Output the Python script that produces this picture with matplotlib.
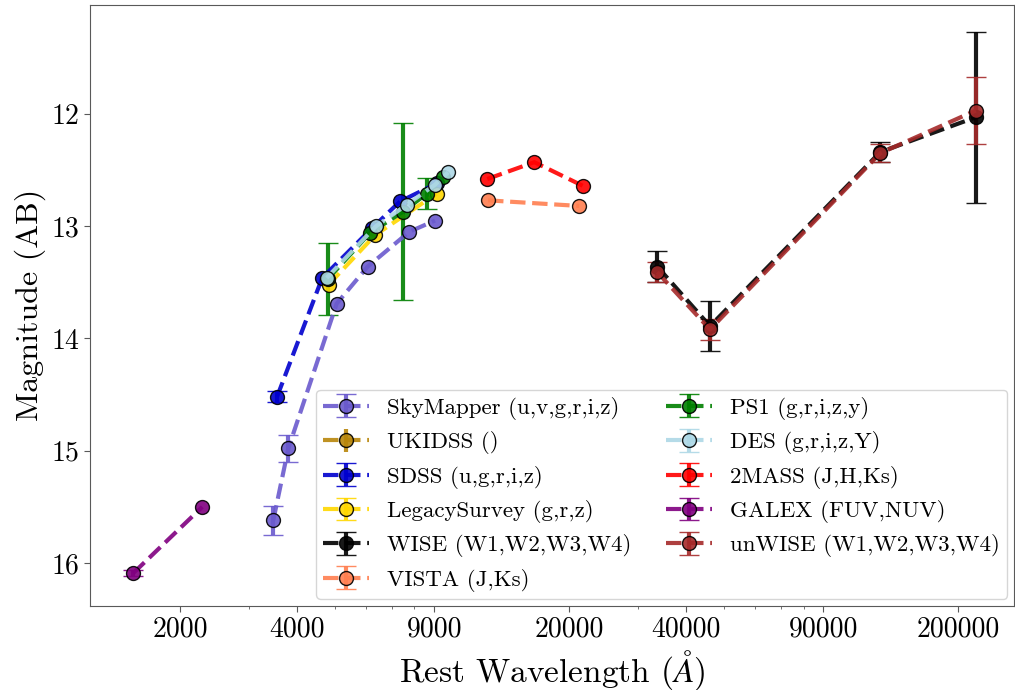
import numpy as np
import matplotlib
matplotlib.use("Agg")
import matplotlib.pyplot as plt
from matplotlib.ticker import FixedLocator, FuncFormatter, LogLocator, NullFormatter

plt.rcParams["font.family"] = ["cmr10", "DejaVu Serif"]
plt.rcParams["mathtext.fontset"] = "cm"
plt.rcParams["axes.formatter.use_mathtext"] = True

nan = np.nan

# --- photometry read off the SED (rest wavelength in A, AB mag, error) ---
# nan error = no visible error bar
sm_wl = [3473, 3796, 5053, 6071, 7766, 9043]
sm_mag = [15.62, 14.98, 13.69, 13.36, 13.05, 12.95]
sm_err = [0.13, 0.12, nan, nan, nan, nan]

ukidss_wl = []
ukidss_mag = []
ukidss_err = []

sdss_wl = [3551, 4640, 6218, 7351, 9133]
sdss_mag = [14.52, 13.46, 13.02, 12.78, 12.62]
sdss_err = [0.05, nan, nan, nan, nan]

legacy_wl = [4820, 6340, 9130]
legacy_mag = [13.52, 13.08, 12.71]
legacy_err = [nan, nan, nan]

wise_wl = [33680, 46010, 126000, 221600]
wise_mag = [13.36, 13.89, 12.34, 12.03]
wise_err = [0.14, 0.22, 0.09, 0.76]

vista_wl = [12376, 21230]
vista_mag = [12.77, 12.82]
vista_err = [nan, nan]

ps1_wl = [4800, 6155, 7496, 8607, 9497]
ps1_mag = [13.47, 13.06, 12.87, 12.71, 12.56]
ps1_err = [0.32, nan, 0.79, 0.14, nan]

des_wl = [4764, 6377, 7647, 9043, 9781]
des_mag = [13.46, 13.00, 12.81, 12.63, 12.52]
des_err = [nan, nan, nan, nan, nan]

tmass_wl = [12318, 16270, 21660]
tmass_mag = [12.58, 12.43, 12.64]
tmass_err = [nan, nan, nan]

galex_wl = [1517, 2282]
galex_mag = [16.09, 15.50]
galex_err = [0.03, nan]

unwise_wl = [33680, 46010, 126000, 221600]
unwise_mag = [13.41, 13.92, 12.35, 11.97]
unwise_err = [0.09, 0.09, 0.08, 0.30]

surveys = [
    ("SkyMapper (u,v,g,r,i,z)", sm_wl, sm_mag, sm_err, "slateblue"),
    ("UKIDSS ()", ukidss_wl, ukidss_mag, ukidss_err, "darkgoldenrod"),
    ("SDSS (u,g,r,i,z)", sdss_wl, sdss_mag, sdss_err, "mediumblue"),
    ("LegacySurvey (g,r,z)", legacy_wl, legacy_mag, legacy_err, "gold"),
    ("WISE (W1,W2,W3,W4)", wise_wl, wise_mag, wise_err, "black"),
    ("VISTA (J,Ks)", vista_wl, vista_mag, vista_err, "coral"),
    ("PS1 (g,r,i,z,y)", ps1_wl, ps1_mag, ps1_err, "green"),
    ("DES (g,r,i,z,Y)", des_wl, des_mag, des_err, "lightblue"),
    ("2MASS (J,H,Ks)", tmass_wl, tmass_mag, tmass_err, "red"),
    ("GALEX (FUV,NUV)", galex_wl, galex_mag, galex_err, "purple"),
    ("unWISE (W1,W2,W3,W4)", unwise_wl, unwise_mag, unwise_err, "brown"),
]

xticks = [2000, 4000, 9000, 20000, 40000, 90000, 200000]

fig = plt.figure(figsize=(10.15, 6.9), dpi=100)
ax = fig.add_axes([0.0887, 0.1222, 0.9103, 0.8706])

for label, wl, mag, err, col in surveys:
    ax.errorbar(wl, mag, yerr=err, fmt="o--", color=col, ecolor=col,
                markersize=10, markeredgecolor="black", markeredgewidth=1,
                lw=3, elinewidth=3, capsize=7, capthick=2, alpha=0.9,
                label=label)

ax.set_xscale("log")
ax.set_xlim(1174.5, 277900)
ax.set_ylim(16.38, 11.03)

ax.xaxis.set_major_locator(FixedLocator(xticks))
ax.xaxis.set_major_formatter(FuncFormatter(lambda v, p: "%d" % v))
ax.xaxis.set_minor_locator(LogLocator(base=10, subs=np.arange(2, 10)))
ax.xaxis.set_minor_formatter(NullFormatter())
ax.set_yticks([12, 13, 14, 15, 16])
ax.yaxis.set_major_formatter(FuncFormatter(lambda v, p: "%d" % v))
ax.tick_params(axis="both", which="major", labelsize=20, length=4, color="0.35")
ax.tick_params(axis="x", which="minor", length=2, color="0.35")

for s in ax.spines.values():
    s.set_color("0.35")

ax.set_xlabel(r"Rest Wavelength ($\AA$)", fontsize=24)
ax.set_ylabel("Magnitude (AB)", fontsize=23)

ax.legend(loc="lower right", ncol=2, fontsize=16.5, framealpha=0.8,
          handlelength=2.0, columnspacing=1.5, borderaxespad=0.3,
          borderpad=0.3)

fig.savefig("out.png", dpi=100, facecolor="white")
